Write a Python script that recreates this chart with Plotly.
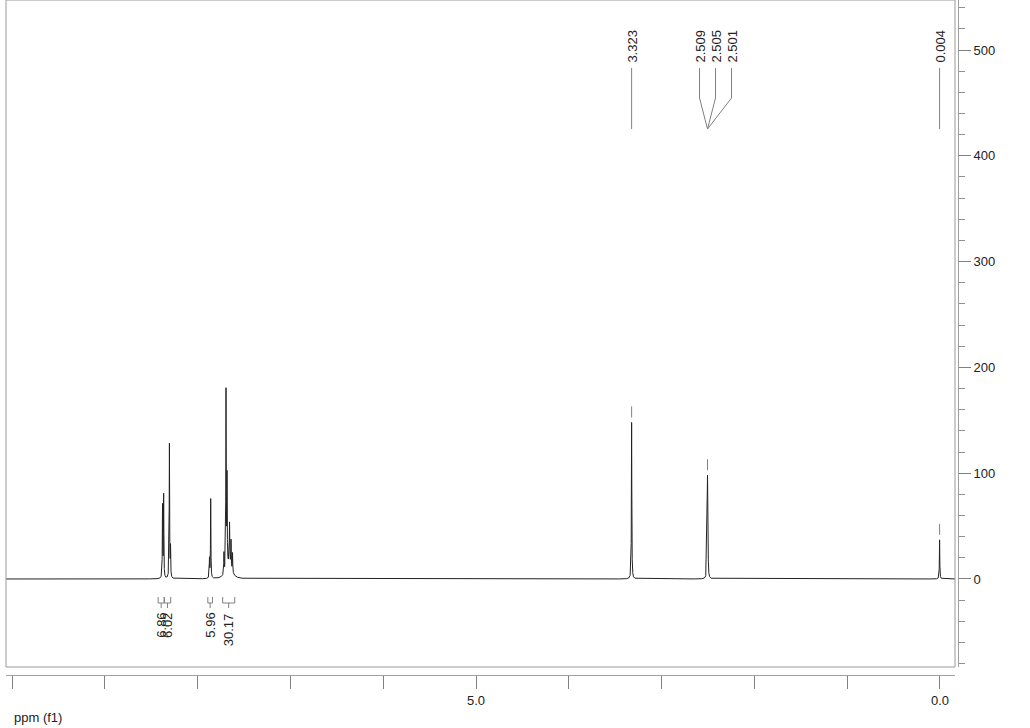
import numpy as np
import plotly.graph_objects as go

# ---- data ----
peak_ppm = [8.378, 8.366, 8.304, 8.292, 7.872, 7.859, 7.716, 7.694, 7.683, 7.656, 7.640, 7.624, 7.660,
            3.323, 2.509, 2.505, 2.501, 0.004]
peak_height = [68, 78, 127, 28, 18, 75, 20, 170, 85, 38, 26, 18, 14,
               148, 50, 70, 50, 37]
peak_hwhm = [0.0025] * 12 + [0.03] + [0.0025] * 5

label_groups = [["3.323"], ["2.509", "2.505", "2.501"], ["0.004"]]

int_start = [8.425, 8.360, 7.890, 7.730]
int_end = [8.360, 8.290, 7.840, 7.600]
int_value = ["6.86", "6.02", "5.96", "30.17"]

x_tick_vals = list(range(0, 11))
x_tick_text = ["0.0", "", "", "", "", "5.0", "", "", "", "", ""]

# ---- geometry ----
W, H = 1030, 728
box_l, box_r, box_t, box_b = 6, 955, 0, 667
xaxis_y = 675
yaxis_x = 958
x_range = [10.065, -0.162]
y_range = [-83.2, 547.3]
ppm_per_px = (x_range[0] - x_range[1]) / (box_r - box_l)
val_per_px = (y_range[1] - y_range[0]) / (box_b - box_t)


def py2val(py):
    return y_range[1] - (py - box_t) * val_per_px


# ---- spectrum from peak list ----
grid = np.arange(x_range[1], x_range[0], 0.0004)
grid = np.sort(np.concatenate([grid, np.array(peak_ppm)]))
spec = np.zeros_like(grid)
for p, h, w in zip(peak_ppm, peak_height, peak_hwhm):
    spec += h * w * w / ((grid - p) ** 2 + w * w)

fig = go.Figure()
fig.add_trace(go.Scatter(x=grid, y=spec, mode="lines",
                         line=dict(color="#222222", width=1),
                         hoverinfo="skip", showlegend=False))

shapes = []
annotations = []
line_col = "#808080"
text_col = "#222222"
font_fam = "Liberation Sans, Arial, sans-serif"

# frame
shapes.append(dict(type="rect", xref="x domain", yref="y domain", x0=0, x1=1, y0=0, y1=1,
                   line=dict(color="#9a9a9a", width=1)))

# peak labels with connectors
lab_center_val = py2val(46)
lab_bottom_val = py2val(68)
knee_val = py2val(98)
conv_val = py2val(129)
for grp in label_groups:
    vals = [float(t) for t in grp]
    center = float(np.mean(vals))
    n = len(grp)
    mask = np.abs(grid - center) < 0.02
    top = spec[mask].max()
    shapes.append(dict(type="line", xref="x", yref="y", x0=center, x1=center,
                       y0=top + 5 * val_per_px, y1=top + 16 * val_per_px,
                       line=dict(color=line_col, width=1)))
    for j, t in enumerate(grp):
        if n == 1:
            lx = center
        else:
            off_px = (j - (n - 1) / 2) * 16 + 8
            lx = center - off_px * ppm_per_px
        annotations.append(dict(x=lx, y=lab_center_val, xref="x", yref="y", text=t,
                                textangle=-90, showarrow=False, xanchor="center", yanchor="middle",
                                font=dict(family=font_fam, size=13, color=text_col)))
        if n == 1:
            shapes.append(dict(type="line", xref="x", yref="y", x0=lx, x1=lx,
                               y0=lab_bottom_val, y1=conv_val, line=dict(color=line_col, width=1)))
        else:
            shapes.append(dict(type="line", xref="x", yref="y", x0=lx, x1=lx,
                               y0=lab_bottom_val, y1=knee_val, line=dict(color=line_col, width=1)))
            shapes.append(dict(type="line", xref="x", yref="y", x0=lx, x1=center,
                               y0=knee_val, y1=conv_val, line=dict(color=line_col, width=1)))

# integration brackets
br_top = py2val(597)
br_mid = py2val(603)
br_stem = py2val(608)
for s, e, v in zip(int_start, int_end, int_value):
    mid = (s + e) / 2
    for seg in [(s, br_top, s, br_mid), (e, br_top, e, br_mid), (s, br_mid, e, br_mid),
                (mid, br_mid, mid, br_stem)]:
        shapes.append(dict(type="line", xref="x", yref="y", x0=seg[0], y0=seg[1], x1=seg[2], y1=seg[3],
                           line=dict(color=line_col, width=1)))
    annotations.append(dict(x=mid, y=py2val(611), xref="x", yref="y", text=v,
                            textangle=-90, showarrow=False, xanchor="center", yanchor="top",
                            font=dict(family=font_fam, size=13, color=text_col)))

plot_l, plot_r, plot_t, plot_b = box_l, yaxis_x, 0, xaxis_y
pw = plot_r - plot_l
ph = plot_b - plot_t

# axis title (paper coords are relative to the plot area)
annotations.append(dict(x=(12 - plot_l) / pw, y=(plot_b - 717) / ph, xref="paper", yref="paper",
                        text="ppm (f1)", showarrow=False, xanchor="left", yanchor="middle",
                        font=dict(family="Liberation Sans Narrow, Liberation Sans, Arial", size=13,
                                  color=text_col)))

fig.update_layout(
    width=W, height=H,
    margin=dict(l=plot_l, r=W - plot_r, t=plot_t, b=H - plot_b, pad=0),
    paper_bgcolor="white", plot_bgcolor="white",
    showlegend=False,
    xaxis=dict(domain=[0, (box_r - box_l) / pw], range=x_range, anchor="free", position=0,
               showgrid=False, zeroline=False, showline=True, linecolor="#a0a0a0", linewidth=1,
               ticks="outside", ticklen=13, tickcolor="#808080", tickwidth=1,
               tickmode="array", tickvals=x_tick_vals, ticktext=x_tick_text,
               tickfont=dict(family="Liberation Sans Narrow, Liberation Sans, Arial", size=13,
                             color=text_col)),
    yaxis=dict(domain=[(plot_b - box_b) / ph, 1], range=y_range, side="right", anchor="free",
               position=1, showgrid=False, zeroline=False, showline=True, linecolor="#a0a0a0",
               linewidth=1, ticks="outside", ticklen=12, tickcolor="#808080", tickwidth=1,
               dtick=100, tick0=0,
               minor=dict(dtick=20, ticklen=6, tickcolor="#909090", ticks="outside"),
               tickfont=dict(family=font_fam, size=13, color=text_col)),
    shapes=shapes, annotations=annotations,
)

fig.write_html("out.html", config={"displayModeBar": False, "staticPlot": True},
               post_script="document.body.style.margin='0';document.body.style.overflow='hidden';")
